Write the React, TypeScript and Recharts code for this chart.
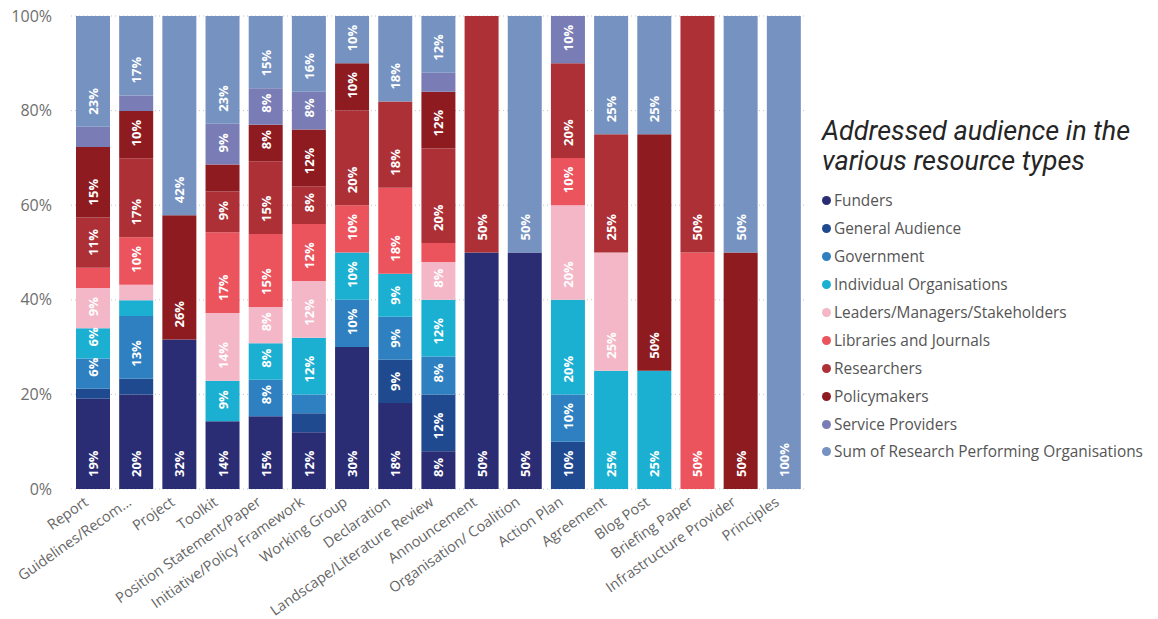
import React from 'react';
import { BarChart, Bar, XAxis, YAxis, CartesianGrid, LabelList } from 'recharts';

// resource types as shown on the x axis
const categories = [
  'Report',
  'Guidelines/Recom...',
  'Project',
  'Toolkit',
  'Position Statement/Paper',
  'Initiative/Policy Framework',
  'Working Group',
  'Declaration',
  'Landscape/Literature Review',
  'Announcement',
  'Organisation/ Coalition',
  'Action Plan',
  'Agreement',
  'Blog Post',
  'Briefing Paper',
  'Infrastructure Provider',
  'Principles',
];

// share (%) of each audience per resource type, in category order
const funders = [19.1, 20, 31.6, 14.3, 15.4, 12, 30, 18.2, 8, 50, 50, 0, 0, 0, 0, 0, 0];
const generalAudience = [2.1, 3.3, 0, 0, 0, 4, 0, 9.1, 12, 0, 0, 10, 0, 0, 0, 0, 0];
const government = [6.4, 13.3, 0, 0, 7.7, 4, 10, 9.1, 8, 0, 0, 10, 0, 0, 0, 0, 0];
const individualOrgs = [6.4, 3.3, 0, 8.6, 7.7, 12, 10, 9.1, 12, 0, 0, 20, 25, 25, 0, 0, 0];
const leaders = [8.5, 3.3, 0, 14.3, 7.7, 12, 0, 0, 8, 0, 0, 20, 25, 0, 0, 0, 0];
const libraries = [4.3, 10, 0, 17.1, 15.4, 12, 10, 18.2, 4, 0, 0, 10, 0, 0, 50, 0, 0];
const researchers = [10.6, 16.7, 0, 8.6, 15.4, 8, 20, 18.2, 20, 50, 0, 20, 25, 0, 50, 0, 0];
const policymakers = [14.9, 10, 26.3, 5.7, 7.7, 12, 10, 0, 12, 0, 0, 0, 0, 50, 0, 50, 0];
const serviceProviders = [4.3, 3.3, 0, 8.6, 7.7, 8, 0, 0, 4, 0, 0, 10, 0, 0, 0, 0, 0];
const researchPerforming = [23.4, 16.8, 42.1, 22.8, 15.3, 16, 10, 18.1, 12, 0, 50, 0, 25, 25, 0, 50, 100];

const yTicks = [0, 20, 40, 60, 80, 100];

const SERIES = [
  { key: 'funders', name: 'Funders', color: '#2b2d74', values: funders },
  { key: 'general', name: 'General Audience', color: '#1f4a8f', values: generalAudience },
  { key: 'government', name: 'Government', color: '#2e80c0', values: government },
  { key: 'individual', name: 'Individual Organisations', color: '#1bb0d2', values: individualOrgs },
  { key: 'leaders', name: 'Leaders/Managers/Stakeholders', color: '#f4b7c7', values: leaders },
  { key: 'libraries', name: 'Libraries and Journals', color: '#eb535d', values: libraries },
  { key: 'researchers', name: 'Researchers', color: '#ad3037', values: researchers },
  { key: 'policymakers', name: 'Policymakers', color: '#8e1b20', values: policymakers },
  { key: 'service', name: 'Service Providers', color: '#7a7db5', values: serviceProviders },
  { key: 'rpo', name: 'Sum of Research Performing Organisations', color: '#7592c1', values: researchPerforming },
];

const data = categories.map((name, i) => {
  const row: any = { name };
  SERIES.forEach((s) => {
    row[s.key] = s.values[i];
  });
  return row;
});

const FONT = '"Open Sans", "Noto Sans", sans-serif';

// white rotated label sitting at the base of the segment
const SegmentLabel = (props: any) => {
  const vb = props.viewBox || props;
  const x = props.x ?? vb.x;
  const y = props.y ?? vb.y;
  const width = props.width ?? vb.width;
  const height = props.height ?? vb.height;
  const value = Number(props.value);
  if (!value || value < 6) return null;
  const cx = x + width / 2;
  const by = y + height - 12;
  return (
    <text
      x={cx}
      y={by}
      transform={`rotate(-90 ${cx} ${by})`}
      textAnchor="start"
      dominantBaseline="central"
      fill="#ffffff"
      fontWeight={700}
      fontSize={13}
      fontFamily={FONT}
    >
      {Math.round(value)}%
    </text>
  );
};

const AngledTick = ({ x, y, payload }: any) => (
  <g transform={`translate(${x - 9},${y - 1})`}>
    <text
      x={0}
      y={0}
      dy={10}
      textAnchor="end"
      transform="rotate(-35)"
      fill="#666666"
      fontSize={14.5}
      fontFamily={FONT}
    >
      {payload.value}
    </text>
  </g>
);

export default function App() {
  return (
    <div style={{ position: 'relative', width: 1150, height: 617, marginTop: -6, background: '#fff' }}>
      <BarChart
        width={815}
        height={617}
        data={data}
        margin={{ top: 14, right: 18, bottom: 0, left: 0 }}
        barSize={34}
      >
        <CartesianGrid vertical={false} strokeDasharray="1 3" stroke="#c4c4c4" />
        <XAxis
          dataKey="name"
          interval={0}
          tickLine={false}
          axisLine={false}
          height={130}
          tick={<AngledTick />}
        />
        <YAxis
          width={63}
          domain={[0, 100]}
          allowDataOverflow
          ticks={yTicks}
          tickFormatter={(v: number) => `${v}%`}
          tickLine={false}
          axisLine={false}
          tickMargin={13}
          tick={{ fill: '#6e6e6e', fontSize: 16, fontFamily: FONT }}
        />
        {SERIES.map((s) => (
          <Bar key={s.key} dataKey={s.key} name={s.name} stackId="a" fill={s.color} isAnimationActive={false}>
            <LabelList dataKey={s.key} content={<SegmentLabel />} />
          </Bar>
        ))}
      </BarChart>

      <div style={{ position: 'absolute', left: 814, top: 113, fontFamily: FONT }}>
        <div
          style={{
            fontFamily: 'Roboto, sans-serif',
            fontStyle: 'italic',
            fontSize: 27,
            lineHeight: '30px',
            color: '#252525',
            paddingTop: 1,
            marginBottom: 11,
          }}
        >
          Addressed audience in the
          <br />
          various resource types
        </div>
        {SERIES.map((s) => (
          <div key={s.key} style={{ display: 'flex', alignItems: 'center', height: 27.9 }}>
            <span
              style={{
                display: 'inline-block',
                width: 9,
                height: 9,
                borderRadius: '50%',
                background: s.color,
                marginRight: 3,
              }}
            />
            <span style={{ fontSize: 15.4, color: '#555555', whiteSpace: 'nowrap' }}>{s.name}</span>
          </div>
        ))}
      </div>
    </div>
  );
}
